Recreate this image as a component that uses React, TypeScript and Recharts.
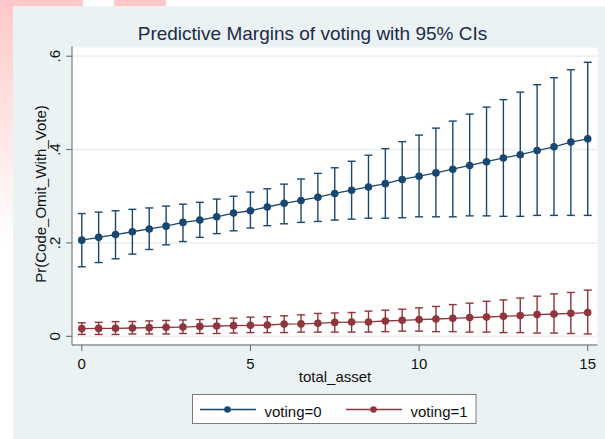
import { CartesianGrid, ComposedChart, ErrorBar, Label, Line, XAxis, YAxis } from 'recharts'

// total_asset values where margins were evaluated
const assets = [
  0, 0.5, 1, 1.5, 2, 2.5, 3, 3.5, 4, 4.5, 5, 5.5, 6, 6.5, 7, 7.5,
  8, 8.5, 9, 9.5, 10, 10.5, 11, 11.5, 12, 12.5, 13, 13.5, 14, 14.5, 15,
]

// voting=0
const margin0 = [
  0.206, 0.212, 0.218, 0.224, 0.230, 0.236, 0.244, 0.249, 0.256, 0.264, 0.269, 0.277, 0.285, 0.291, 0.298, 0.306,
  0.313, 0.320, 0.327, 0.336, 0.343, 0.350, 0.358, 0.366, 0.374, 0.382, 0.389, 0.398, 0.406, 0.416, 0.423,
]
const lower0 = [
  0.149, 0.158, 0.166, 0.176, 0.186, 0.196, 0.203, 0.212, 0.220, 0.226, 0.232, 0.237, 0.241, 0.244, 0.246, 0.249,
  0.251, 0.253, 0.253, 0.254, 0.256, 0.256, 0.256, 0.258, 0.258, 0.257, 0.257, 0.259, 0.259, 0.259, 0.259,
]
const upper0 = [
  0.263, 0.266, 0.269, 0.272, 0.275, 0.279, 0.283, 0.287, 0.294, 0.300, 0.309, 0.316, 0.326, 0.337, 0.349, 0.361,
  0.375, 0.388, 0.402, 0.417, 0.431, 0.446, 0.461, 0.476, 0.491, 0.507, 0.523, 0.539, 0.554, 0.571, 0.587,
]

// voting=1
const margin1 = [
  0.0165, 0.017, 0.0172, 0.0178, 0.0186, 0.0193, 0.0199, 0.0212, 0.0221, 0.0229, 0.0236, 0.0242, 0.0262, 0.0266, 0.0279, 0.0298,
  0.0306, 0.0308, 0.0328, 0.0343, 0.0358, 0.0371, 0.0386, 0.0401, 0.0414, 0.0429, 0.0444, 0.0465, 0.0478, 0.0493, 0.0508,
]
const lower1 = [
  0.004, 0.004, 0.004, 0.005, 0.005, 0.005, 0.006, 0.006, 0.006, 0.007, 0.008, 0.008, 0.008, 0.009, 0.009, 0.009,
  0.009, 0.009, 0.010, 0.011, 0.011, 0.010, 0.010, 0.009, 0.009, 0.008, 0.008, 0.007, 0.007, 0.006, 0.005,
]
const upper1 = [
  0.029, 0.030, 0.0315, 0.0318, 0.033, 0.034, 0.035, 0.036, 0.038, 0.039, 0.041, 0.042, 0.044, 0.046, 0.049, 0.050,
  0.051, 0.054, 0.056, 0.058, 0.061, 0.064, 0.068, 0.071, 0.075, 0.078, 0.082, 0.086, 0.091, 0.094, 0.099,
]

const xTicks = [0, 5, 10, 15]
const yTicks = [0, 0.2, 0.4, 0.6]

const NAVY = '#1a476f'
const MAROON = '#90353b'
const BG = '#eaf2f3'
const AXIS = '#666666'
const FONT = '"Liberation Sans", Arial, Helvetica, sans-serif'

const series = [
  { name: 'voting=0', color: NAVY },
  { name: 'voting=1', color: MAROON },
]

const rows = assets.map((x, i) => ({
  x,
  m0: margin0[i],
  e0: [margin0[i] - lower0[i], upper0[i] - margin0[i]],
  m1: margin1[i],
  e1: [margin1[i] - lower1[i], upper1[i] - margin1[i]],
}))

function stataNum(v: number) {
  if (v === 0) return '0'
  return String(Math.round(v * 10) / 10).replace(/^0/, '')
}

function XTick(props: any) {
  const { x, y, payload } = props
  return (
    <text x={x} y={y + 18} textAnchor="middle" fontSize={15} fill="#111" fontFamily={FONT}>
      {payload.value}
    </text>
  )
}

function YTick(props: any) {
  const { x, y, payload } = props
  const tx = x - 5.5
  return (
    <text
      x={tx}
      y={y}
      transform={`rotate(-90 ${tx} ${y})`}
      textAnchor="middle"
      fontSize={15}
      fill="#111"
      fontFamily={FONT}
    >
      {stataNum(payload.value)}
    </text>
  )
}

function Backdrop() {
  return (
    <svg width={605} height={439} style={{ position: 'absolute', left: 0, top: 0 }}>
      <defs>
        <linearGradient id="pinkfade" x1="0" y1="0" x2="0" y2="1">
          <stop offset="0" stopColor="#ffc8c8" />
          <stop offset="0.55" stopColor="#ffffff" />
        </linearGradient>
      </defs>
      <rect x={0} y={0} width={605} height={439} fill="#ffffff" />
      <rect x={0} y={0} width={13} height={439} fill="url(#pinkfade)" />
      <rect x={0} y={0} width={166} height={6} fill="#ffc8c8" />
      <rect x={83} y={0} width={31} height={6} fill="#ffffff" />
      <rect x={13} y={6} width={592} height={433} fill={BG} />
      <text x={312.5} y={40} textAnchor="middle" fontSize={19} fill="#1c2a48" fontFamily={FONT}>
        Predictive Margins of voting with 95% CIs
      </text>
      <rect x={192.5} y={394.5} width={283.5} height={29} fill="#ffffff" stroke="#7a7a7a" strokeWidth={1} />
      {series.map((s, i) => {
        const x0 = 200 + i * 146
        return (
          <g key={s.name}>
            <line x1={x0} y1={409.5} x2={x0 + 56} y2={409.5} stroke={s.color} strokeWidth={1.3} />
            <circle cx={x0 + 27.5} cy={409.5} r={3.3} fill={s.color} />
            <text x={x0 + 64.5} y={416.5} fontSize={15} fill="#111" fontFamily={FONT}>
              {s.name}
            </text>
          </g>
        )
      })}
    </svg>
  )
}

export default function App() {
  return (
    <div style={{ position: 'absolute', left: 0, top: 0, width: 605, height: 439 }}>
      <Backdrop />
      <div style={{ position: 'absolute', left: 0, top: 0 }}>
        <ComposedChart
          width={605}
          height={439}
          data={rows}
          margin={{ top: 46.5, right: 7.5, bottom: 54, left: 12 }}
        >
          <CartesianGrid vertical={false} fill="#ffffff" stroke={BG} strokeWidth={1.8} />
          <XAxis
            type="number"
            dataKey="x"
            domain={[-0.29, 15.29]}
            ticks={xTicks}
            interval={0}
            allowDataOverflow
            height={40}
            tickSize={6}
            tickMargin={0}
            stroke={AXIS}
            tick={<XTick />}
          >
            <Label
              content={() => (
                <text x={335} y={382} textAnchor="middle" fontSize={15} fill="#111" fontFamily={FONT}>
                  total_asset
                </text>
              )}
            />
          </XAxis>
          <YAxis
            type="number"
            domain={[-0.0186, 0.6208]}
            ticks={yTicks}
            interval={0}
            allowDataOverflow
            width={60}
            tickSize={6}
            tickMargin={0}
            stroke={AXIS}
            tick={<YTick />}
          >
            <Label
              content={() => (
                <text
                  x={46}
                  y={194}
                  transform="rotate(-90 46 194)"
                  textAnchor="middle"
                  fontSize={15}
                  fill="#111"
                  fontFamily={FONT}
                >
                  Pr(Code_Omit_With_Vote)
                </text>
              )}
            />
          </YAxis>
          <Line
            type="linear"
            dataKey="m0"
            stroke={NAVY}
            strokeWidth={1.3}
            dot={{ r: 3.8, fill: NAVY, stroke: NAVY, strokeWidth: 0 }}
            activeDot={false}
            isAnimationActive={false}
          >
            <ErrorBar dataKey="e0" direction="y" width={4} stroke={NAVY} strokeWidth={1.4} isAnimationActive={false} />
          </Line>
          <Line
            type="linear"
            dataKey="m1"
            stroke={MAROON}
            strokeWidth={1.3}
            dot={{ r: 3.8, fill: MAROON, stroke: MAROON, strokeWidth: 0 }}
            activeDot={false}
            isAnimationActive={false}
          >
            <ErrorBar dataKey="e1" direction="y" width={4} stroke={MAROON} strokeWidth={1.4} isAnimationActive={false} />
          </Line>
        </ComposedChart>
      </div>
    </div>
  )
}
